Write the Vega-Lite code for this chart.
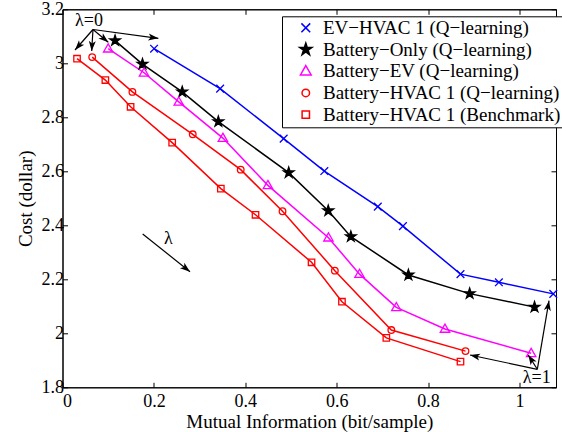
{
  "$schema": "https://vega.github.io/schema/vega-lite/v6.json",
  "width": 493.5,
  "height": 378,
  "autosize": {"type": "none"},
  "padding": {"left": 62.5, "top": 9.3, "right": 6, "bottom": 44.7},
  "background": "white",
  "config": {
    "view": {"stroke": "black", "strokeWidth": 1},
    "axis": {
      "grid": false,
      "domainColor": "black",
      "tickColor": "black",
      "labelColor": "black",
      "titleColor": "black",
      "labelFont": "Liberation Serif",
      "titleFont": "Liberation Serif",
      "labelFontSize": 18,
      "titleFontSize": 19,
      "titleFontWeight": "normal",
      "tickSize": -5,
      "domainWidth": 1,
      "tickWidth": 1
    }
  },
  "datasets": {
    "series": [
      {"series": "EV−HVAC 1 (Q−learning)", "x": 0.2004, "y": 3.054},
      {"series": "EV−HVAC 1 (Q−learning)", "x": 0.345, "y": 2.906},
      {"series": "EV−HVAC 1 (Q−learning)", "x": 0.484, "y": 2.721},
      {"series": "EV−HVAC 1 (Q−learning)", "x": 0.573, "y": 2.601},
      {"series": "EV−HVAC 1 (Q−learning)", "x": 0.690, "y": 2.469},
      {"series": "EV−HVAC 1 (Q−learning)", "x": 0.745, "y": 2.397},
      {"series": "EV−HVAC 1 (Q−learning)", "x": 0.871, "y": 2.219},
      {"series": "EV−HVAC 1 (Q−learning)", "x": 0.955, "y": 2.189},
      {"series": "EV−HVAC 1 (Q−learning)", "x": 1.074, "y": 2.146},
      {"series": "Battery−Only (Q−learning)", "x": 0.115, "y": 3.084},
      {"series": "Battery−Only (Q−learning)", "x": 0.175, "y": 2.997},
      {"series": "Battery−Only (Q−learning)", "x": 0.262, "y": 2.894},
      {"series": "Battery−Only (Q−learning)", "x": 0.341, "y": 2.784},
      {"series": "Battery−Only (Q−learning)", "x": 0.495, "y": 2.595},
      {"series": "Battery−Only (Q−learning)", "x": 0.5816, "y": 2.454},
      {"series": "Battery−Only (Q−learning)", "x": 0.631, "y": 2.358},
      {"series": "Battery−Only (Q−learning)", "x": 0.757, "y": 2.216},
      {"series": "Battery−Only (Q−learning)", "x": 0.891, "y": 2.147},
      {"series": "Battery−Only (Q−learning)", "x": 1.033, "y": 2.097},
      {"series": "Battery−EV (Q−learning)", "x": 0.100, "y": 3.054},
      {"series": "Battery−EV (Q−learning)", "x": 0.1785, "y": 2.965},
      {"series": "Battery−EV (Q−learning)", "x": 0.2545, "y": 2.857},
      {"series": "Battery−EV (Q−learning)", "x": 0.351, "y": 2.723},
      {"series": "Battery−EV (Q−learning)", "x": 0.4495, "y": 2.548},
      {"series": "Battery−EV (Q−learning)", "x": 0.582, "y": 2.354},
      {"series": "Battery−EV (Q−learning)", "x": 0.650, "y": 2.219},
      {"series": "Battery−EV (Q−learning)", "x": 0.7305, "y": 2.096},
      {"series": "Battery−EV (Q−learning)", "x": 0.837, "y": 2.016},
      {"series": "Battery−EV (Q−learning)", "x": 1.0256, "y": 1.926},
      {"series": "Battery−HVAC 1 (Q−learning)", "x": 0.065, "y": 3.023},
      {"series": "Battery−HVAC 1 (Q−learning)", "x": 0.153, "y": 2.894},
      {"series": "Battery−HVAC 1 (Q−learning)", "x": 0.285, "y": 2.737},
      {"series": "Battery−HVAC 1 (Q−learning)", "x": 0.390, "y": 2.606},
      {"series": "Battery−HVAC 1 (Q−learning)", "x": 0.4815, "y": 2.452},
      {"series": "Battery−HVAC 1 (Q−learning)", "x": 0.596, "y": 2.232},
      {"series": "Battery−HVAC 1 (Q−learning)", "x": 0.7196, "y": 2.012},
      {"series": "Battery−HVAC 1 (Q−learning)", "x": 0.882, "y": 1.934},
      {"series": "Battery−HVAC 1 (Benchmark)", "x": 0.0318, "y": 3.017},
      {"series": "Battery−HVAC 1 (Benchmark)", "x": 0.0938, "y": 2.938},
      {"series": "Battery−HVAC 1 (Benchmark)", "x": 0.149, "y": 2.839},
      {"series": "Battery−HVAC 1 (Benchmark)", "x": 0.240, "y": 2.706},
      {"series": "Battery−HVAC 1 (Benchmark)", "x": 0.3465, "y": 2.536},
      {"series": "Battery−HVAC 1 (Benchmark)", "x": 0.4224, "y": 2.439},
      {"series": "Battery−HVAC 1 (Benchmark)", "x": 0.545, "y": 2.263},
      {"series": "Battery−HVAC 1 (Benchmark)", "x": 0.6116, "y": 2.117},
      {"series": "Battery−HVAC 1 (Benchmark)", "x": 0.7087, "y": 1.983},
      {"series": "Battery−HVAC 1 (Benchmark)", "x": 0.871, "y": 1.895}
    ],
    "arrows": [
      {"x": 0.0667, "y": 3.1252, "x2": 0.0274, "y2": 3.0493},
      {"x": 0.0667, "y": 3.1252, "x2": 0.0639, "y2": 3.0456},
      {"x": 0.0667, "y": 3.1252, "x2": 0.1002, "y2": 3.0778},
      {"x": 0.0667, "y": 3.1252, "x2": 0.2097, "y2": 3.0926},
      {"x": 1.0391, "y": 1.8667, "x2": 0.8918, "y2": 1.9196},
      {"x": 1.0391, "y": 1.8667, "x2": 1.0194, "y2": 1.9196},
      {"x": 1.0391, "y": 1.8667, "x2": 1.0647, "y2": 2.1207},
      {"x": 0.1755, "y": 2.3678, "x2": 0.2790, "y2": 2.2281}
    ],
    "labels": [
      {"x": 0.058, "y": 3.158, "text": "λ=0"},
      {"x": 1.0378, "y": 1.8333, "text": "λ=1"},
      {"x": 0.2315, "y": 2.35, "text": "λ"}
    ]
  },
  "layer": [
    {
      "data": {"name": "series"},
      "mark": {"type": "line", "strokeWidth": 1.5},
      "encoding": {
        "x": {
          "field": "x", "type": "quantitative",
          "scale": {"domain": [0, 1.08], "nice": false, "zero": false},
          "axis": {"orient": "bottom", "values": [0, 0.2, 0.4, 0.6, 0.8, 1], "format": "~g", "title": "Mutual Information (bit/sample)", "labelPadding": 10, "titlePadding": 2}
        },
        "y": {
          "field": "y", "type": "quantitative",
          "scale": {"domain": [1.8, 3.2], "nice": false, "zero": false},
          "axis": {"orient": "left", "values": [1.8, 2, 2.2, 2.4, 2.6, 2.8, 3, 3.2], "format": "~g", "title": "Cost (dollar)", "labelPadding": 4, "titlePadding": 6}
        },
        "color": {
          "field": "series", "type": "nominal",
          "scale": {
            "domain": ["EV−HVAC 1 (Q−learning)", "Battery−Only (Q−learning)", "Battery−EV (Q−learning)", "Battery−HVAC 1 (Q−learning)", "Battery−HVAC 1 (Benchmark)"],
            "range": ["#0000ff", "#000000", "#ff00ff", "#ff0000", "#ff0000"]
          },
          "legend": {
            "title": null, "orient": "none", "legendX": 219.5, "legendY": 7,
            "strokeColor": "black", "fillColor": "white", "padding": 2,
            "labelFont": "Liberation Serif", "labelFontSize": 19, "labelColor": "black", "labelLimit": 400,
            "symbolSize": 256, "symbolStrokeWidth": 1.5, "symbolOffset": 12.3, "labelOffset": 7.7, "rowPadding": 1.7
          }
        }
      }
    },
    {
      "data": {"name": "series"},
      "mark": {"type": "point", "filled": false, "size": 196, "strokeWidth": 1.3, "opacity": 1},
      "encoding": {
        "x": {"field": "x", "type": "quantitative", "axis": null},
        "y": {"field": "y", "type": "quantitative", "axis": null},
        "color": {
          "field": "series", "type": "nominal",
          "legend": {
            "title": null, "orient": "none", "legendX": 219.5, "legendY": 7,
            "strokeColor": "black", "fillColor": "white", "padding": 2,
            "labelFont": "Liberation Serif", "labelFontSize": 19, "labelColor": "black", "labelLimit": 400,
            "symbolSize": 256, "symbolStrokeWidth": 1.5, "symbolOffset": 12.3, "labelOffset": 7.7, "rowPadding": 1.7
          }
        },
        "shape": {
          "field": "series", "type": "nominal",
          "scale": {
            "domain": ["EV−HVAC 1 (Q−learning)", "Battery−Only (Q−learning)", "Battery−EV (Q−learning)", "Battery−HVAC 1 (Q−learning)", "Battery−HVAC 1 (Benchmark)"],
            "range": [
              "M-0.55,-0.55L0.55,0.55M-0.55,0.55L0.55,-0.55",
              "M0,-0.8L0.18,-0.247L0.761,-0.247L0.29,0.094L0.47,0.647L0,0.306L-0.47,0.647L-0.29,0.094L-0.761,-0.247L-0.18,-0.247Z",
              "M0,-0.7L0.67,0.47L-0.67,0.47Z",
              "M0.47,0A0.47,0.47,0,1,1,-0.47,0A0.47,0.47,0,1,1,0.47,0Z",
              "M-0.46,-0.46L0.46,-0.46L0.46,0.46L-0.46,0.46Z"
            ]
          },
          "legend": {
            "title": null, "orient": "none", "legendX": 219.5, "legendY": 7,
            "strokeColor": "black", "fillColor": "white", "padding": 2,
            "labelFont": "Liberation Serif", "labelFontSize": 19, "labelColor": "black", "labelLimit": 400,
            "symbolSize": 256, "symbolStrokeWidth": 1.5, "symbolOffset": 12.3, "labelOffset": 7.7, "rowPadding": 1.7
          }
        },
        "fill": {
          "field": "series", "type": "nominal",
          "scale": {
            "domain": ["EV−HVAC 1 (Q−learning)", "Battery−Only (Q−learning)", "Battery−EV (Q−learning)", "Battery−HVAC 1 (Q−learning)", "Battery−HVAC 1 (Benchmark)"],
            "range": ["transparent", "#000000", "transparent", "transparent", "transparent"]
          },
          "legend": null
        }
      }
    },
    {
      "data": {"name": "arrows"},
      "mark": {"type": "rule", "color": "black", "strokeWidth": 1.2},
      "encoding": {
        "x": {"field": "x", "type": "quantitative", "axis": {"orient": "top", "values": [0, 0.2, 0.4, 0.6, 0.8, 1], "labels": false, "title": null}},
        "y": {"field": "y", "type": "quantitative", "axis": {"orient": "right", "values": [1.8, 2, 2.2, 2.4, 2.6, 2.8, 3, 3.2], "labels": false, "title": null}},
        "x2": {"field": "x2"},
        "y2": {"field": "y2"}
      }
    },
    {
      "data": {"name": "arrows"},
      "transform": [
        {"calculate": "atan2((datum.x2 - datum.x) * 456.94, (datum.y2 - datum.y) * 270) * 180 / PI", "as": "angle"}
      ],
      "mark": {"type": "point", "shape": "M0,0L-0.35,1L0,0.75L0.35,1Z", "size": 400, "filled": true, "color": "black", "opacity": 1, "strokeWidth": 0},
      "encoding": {
        "x": {"field": "x2", "type": "quantitative", "axis": null},
        "y": {"field": "y2", "type": "quantitative", "axis": null},
        "angle": {"field": "angle", "type": "quantitative", "scale": null}
      }
    },
    {
      "data": {"name": "labels"},
      "mark": {"type": "text", "font": "Liberation Serif", "fontSize": 18, "color": "black"},
      "encoding": {
        "x": {"field": "x", "type": "quantitative", "axis": null},
        "y": {"field": "y", "type": "quantitative", "axis": null},
        "text": {"field": "text"}
      }
    }
  ],
  "resolve": {"axis": {"x": "independent", "y": "independent"}}
}
